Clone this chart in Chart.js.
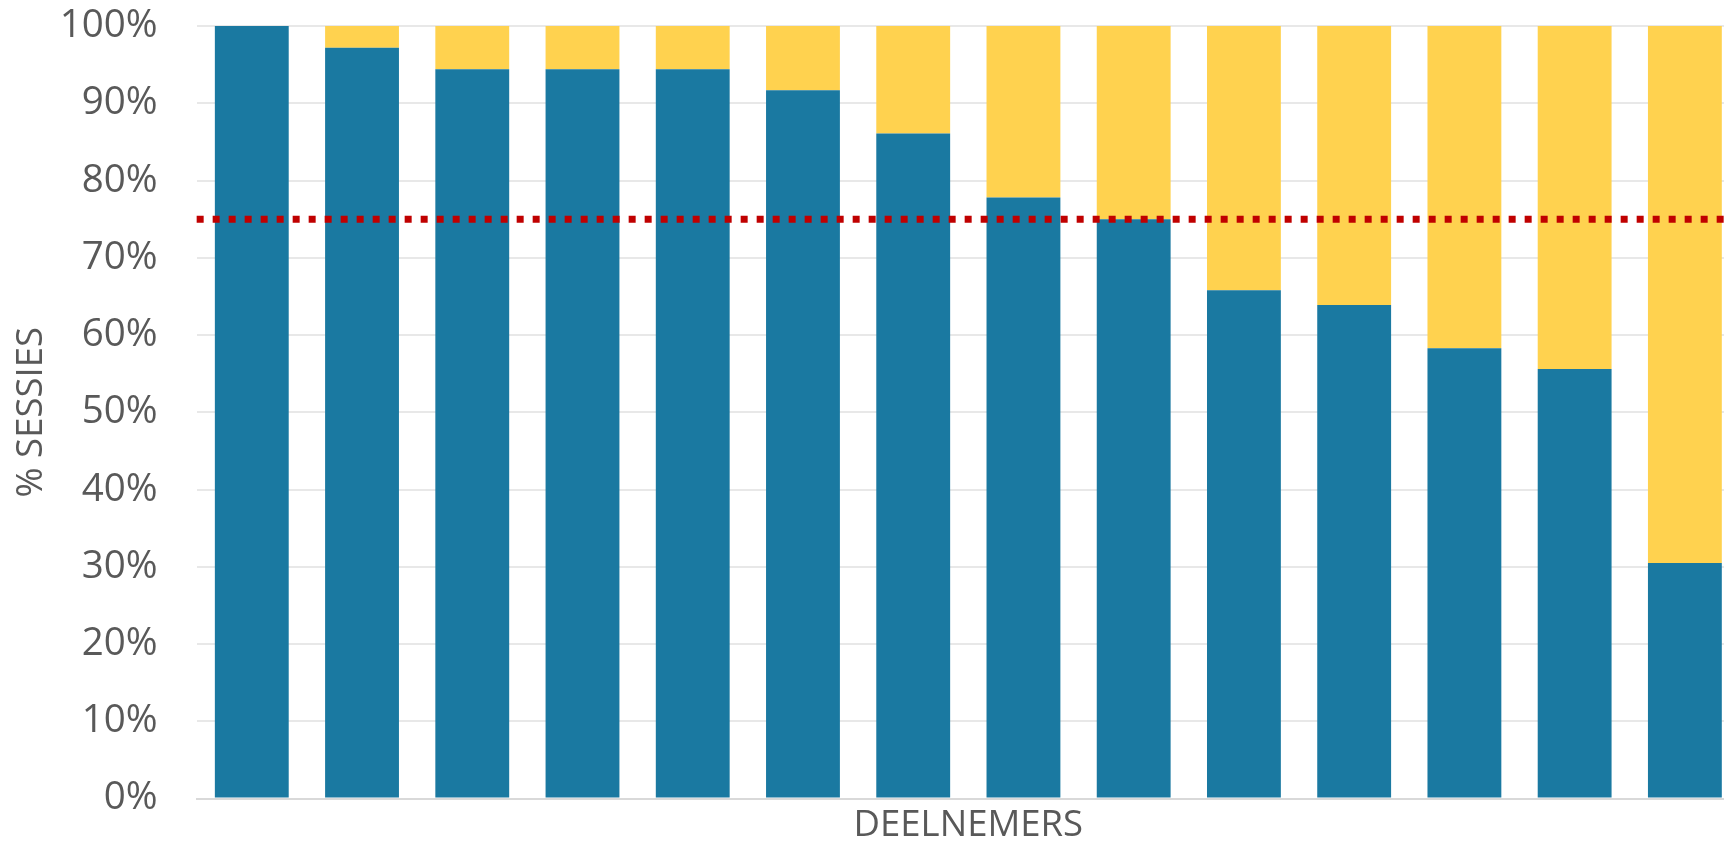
<!DOCTYPE html>
<html>
<head>
<meta charset="utf-8">
<script src="https://cdn.jsdelivr.net/npm/chart.js@4/dist/chart.umd.min.js"></script>
<style>
  html, body { margin: 0; padding: 0; background: #fff; overflow: hidden; }
  #wrap { width: 1724px; height: 844px; overflow: hidden; }
</style>
</head>
<body>
<div id="wrap"><canvas id="myChart" width="1742" height="844"></canvas></div>
<script>
// data
var deelnemers = ['1', '2', '3', '4', '5', '6', '7', '8', '9', '10', '11', '12', '13', '14'];
var aanwezig = [100, 97.2, 94.4, 94.4, 94.4, 91.7, 86.1, 77.8, 75, 65.8, 63.9, 58.3, 55.6, 30.5];
var afwezig = aanwezig.map(function(v){ return Math.round((100 - v) * 10) / 10; });
var norm = 75;

var gridGrey = '#e8e8e8';
var axisGrey = '#d9d9d9';
var textGrey = '#595959';

// red dotted norm line, drawn through the y scale
var normLine = {
  id: 'normLine',
  afterDatasetsDraw: function(chart){
    var c = chart.ctx, a = chart.chartArea;
    var y = chart.scales.y.getPixelForValue(norm);
    c.save();
    c.strokeStyle = '#c00000';
    c.lineWidth = 7;
    c.setLineDash([7, 9]);
    c.beginPath();
    c.moveTo(a.left, y);
    c.lineTo(a.right, y);
    c.stroke();
    c.restore();
  }
};

var ctx = document.getElementById('myChart').getContext('2d');
var myChart = new Chart(ctx, {
  type: 'bar',
  data: {
    labels: deelnemers,
    datasets: [{
      data: aanwezig,
      backgroundColor: '#1a79a1',
      barPercentage: 0.67,
      categoryPercentage: 1
    },{
      data: afwezig,
      backgroundColor: '#ffd24f',
      barPercentage: 0.67,
      categoryPercentage: 1
    }]
  },
  options: {
    responsive: false,
    animation: false,
    layout: { padding: { top: 6, right: 2, left: 0, bottom: 0 } },
    plugins: {
      legend: { display: false },
      tooltip: { enabled: false }
    },
    scales: {
      x: {
        stacked: true,
        grid: { display: false, drawTicks: false },
        border: { display: true, color: axisGrey, width: 2 },
        ticks: { display: false },
        title: {
          display: true,
          text: 'DEELNEMERS',
          color: textGrey,
          font: { family: 'Open Sans', size: 36.5, lineHeight: 1 },
          padding: { top: 9, bottom: 0 }
        }
      },
      y: {
        stacked: true,
        min: 0,
        max: 100,
        ticks: {
          stepSize: 10,
          color: textGrey,
          padding: 3,
          font: { family: 'Open Sans', size: 38.5 },
          callback: function(v){ return v + '%'; }
        },
        grid: {
          drawTicks: true,
          tickLength: 36,
          tickColor: 'rgba(0,0,0,0)',
          lineWidth: 2,
          color: function(c){ return c.tick && c.tick.value === 0 ? axisGrey : gridGrey; }
        },
        border: { display: false },
        title: {
          display: true,
          text: '% SESSIES',
          color: textGrey,
          font: { family: 'Open Sans', size: 36.5 },
          padding: { top: 10, bottom: 3 }
        }
      }
    }
  },
  plugins: [normLine]
});
</script>
</body>
</html>
